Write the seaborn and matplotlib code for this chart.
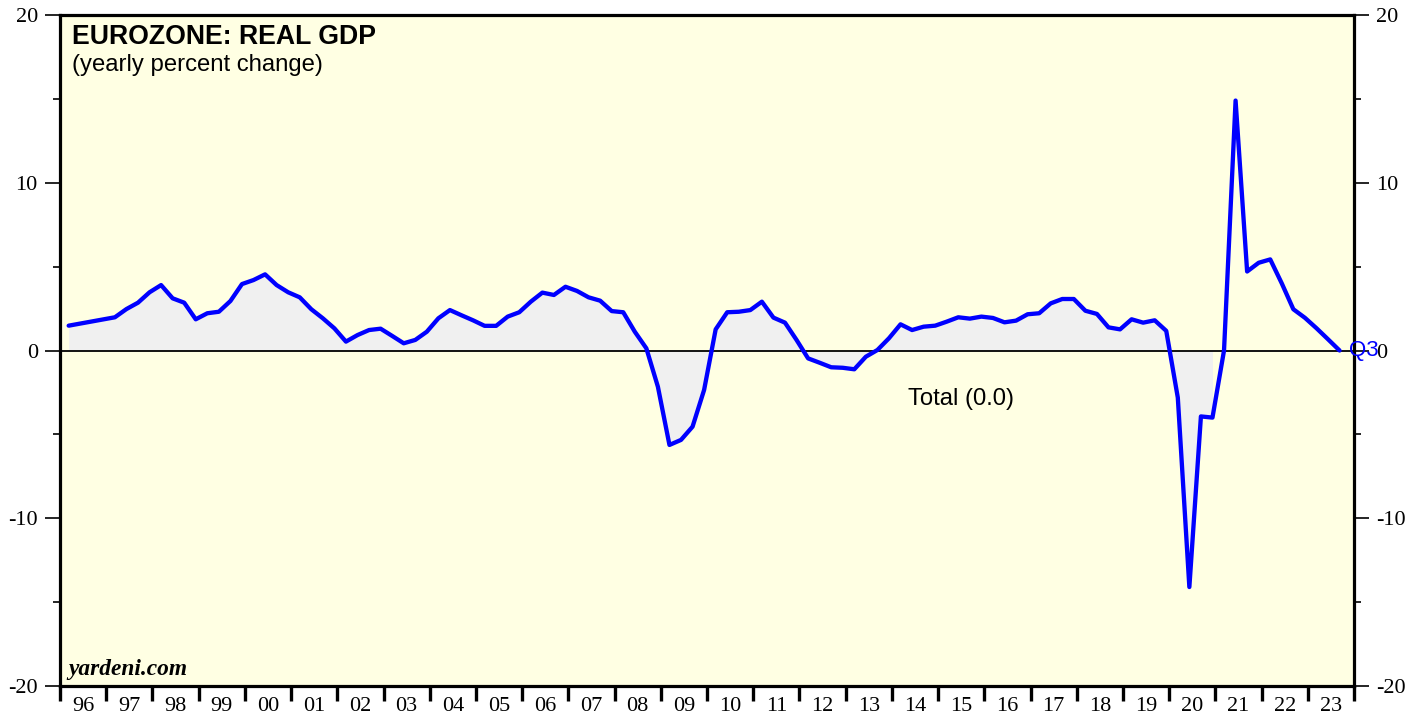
import numpy as np
import pandas as pd
import matplotlib
matplotlib.use("Agg")
import matplotlib.pyplot as plt
import seaborn as sns
from matplotlib.ticker import FixedLocator, NullFormatter, FixedFormatter

# ---- data (yearly % change, quarterly) ----
quarters = ["1996Q1"] + [f"{y}Q{q}" for y in range(1997, 2024) for q in range(1, 5)][:-1]
gdp_yoy = [
    1.48,
    1.98, 2.47, 2.85, 3.47,
    3.90, 3.11, 2.85, 1.86,
    2.22, 2.31, 2.95, 3.96,
    4.20, 4.54, 3.90, 3.47,
    3.17, 2.46, 1.92, 1.32,
    0.53, 0.92, 1.22, 1.30,
    0.87, 0.43, 0.63, 1.12,
    1.92, 2.41, 2.10, 1.80,
    1.47, 1.47, 2.02, 2.28,
    2.91, 3.45, 3.31, 3.80,
    3.55, 3.17, 2.97, 2.35,
    2.28, 1.12, 0.13, -2.16,
    -5.63, -5.33, -4.54, -2.35,
    1.26, 2.28, 2.31, 2.41,
    2.91, 1.96, 1.66, 0.63,
    -0.47, -0.73, -1.00, -1.03,
    -1.12, -0.37, 0.03, 0.73,
    1.56, 1.22, 1.42, 1.48,
    1.72, 1.98, 1.90, 2.02,
    1.94, 1.68, 1.78, 2.16,
    2.22, 2.81, 3.07, 3.07,
    2.37, 2.18, 1.38, 1.26,
    1.86, 1.66, 1.80, 1.17,
    -2.81, -14.10, -3.93, -4.00,
    0.00, 14.90, 4.71, 5.23,
    5.43, 4.00, 2.46, 1.95,
    1.33, 0.67, 0.00,
]
shade_until = "2020Q4"
year_labels = [f"{y % 100:02d}" for y in range(1996, 2024)]
yticks_major = [-20, -10, 0, 10, 20]
yticks_minor = [-15, -5, 5, 15]

per = pd.PeriodIndex(quarters, freq="Q")
xpos = per.year + (per.quarter - 0.25) / 4.0
df = pd.DataFrame({"t": xpos, "gdp": gdp_yoy})

sns.set_style("white")
plt.rcParams["font.family"] = ["Liberation Sans", "DejaVu Sans"]
plt.rcParams["text.color"] = "black"
plt.rcParams["xtick.color"] = "black"
plt.rcParams["ytick.color"] = "black"
plt.rcParams["xtick.labelcolor"] = "black"
plt.rcParams["ytick.labelcolor"] = "black"

fig = plt.figure(figsize=(14.21, 7.17), dpi=100)
ax = fig.add_axes([60 / 1421, 1 - 686 / 717, 1294 / 1421, 671 / 717])
ax.set_facecolor("#FFFFE3")

shade = df[per <= pd.Period(shade_until, freq="Q")]
ax.fill_between(shade["t"], 0, shade["gdp"], color="#F0F0F0", lw=0, interpolate=True, zorder=1)
ax.axhline(0, color="black", lw=1.3, zorder=2)
sns.lineplot(data=df, x="t", y="gdp", ax=ax, color="#0000FF", lw=3.1, zorder=3)

ax.set_xlim(1996, 2024)
ax.set_ylim(-20, 20)
ax.set_xlabel("")
ax.set_ylabel("")

for s in ax.spines.values():
    s.set_linewidth(2.3)
    s.set_color("black")
    s.set_visible(True)

years = np.arange(1996, 2025)
ax.xaxis.set_major_locator(FixedLocator(years))
ax.xaxis.set_major_formatter(NullFormatter())
ax.xaxis.set_minor_locator(FixedLocator(np.arange(1996, 2024) + 0.5))
ax.xaxis.set_minor_formatter(FixedFormatter(year_labels))
ax.tick_params(axis="x", which="major", direction="out", length=11, width=2.4, bottom=True, top=False)
ax.tick_params(axis="x", which="minor", length=0, pad=8, labelsize=16,
               labelfontfamily="Liberation Serif")

ax.yaxis.set_major_locator(FixedLocator(yticks_major))
ax.yaxis.set_minor_locator(FixedLocator(yticks_minor))
ax.tick_params(axis="y", which="major", direction="out", length=11, width=1.2,
               left=True, right=True, labelleft=True, labelright=True,
               labelsize=16, pad=5, labelfontfamily="Liberation Serif")
ax.tick_params(axis="y", which="minor", direction="out", length=5, width=1.2,
               left=True, right=True)
ax.set_yticklabels([str(v) for v in yticks_major])

fig.text(72 / 1421, 1 - 24 / 717, "EUROZONE: REAL GDP", fontsize=19.2, fontweight="bold",
         ha="left", va="top")
fig.text(72 / 1421, 1 - 54 / 717, "(yearly percent change)", fontsize=17.2,
         ha="left", va="top")
fig.text(908 / 1421, 1 - 399 / 717, "Total (0.0)", fontsize=17.2, ha="left", va="center")
fig.text(1349 / 1421, 1 - 350 / 717, "Q3", fontsize=16, color="#0000FF", ha="left", va="center")
fig.text(68 / 1421, 1 - 670 / 717, "yardeni.com", fontsize=16.8, fontweight="bold",
         fontstyle="italic", family="Liberation Serif", ha="left", va="center")

fig.savefig("out.png", dpi=100, facecolor="white")
